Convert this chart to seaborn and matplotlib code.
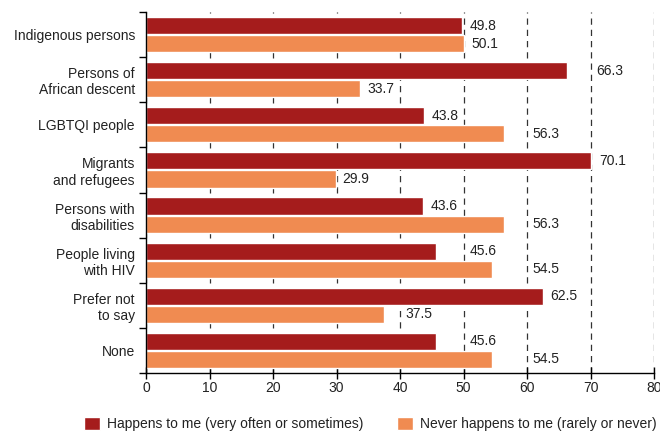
import numpy as np
import pandas as pd
import matplotlib
matplotlib.use('Agg')
import matplotlib.pyplot as plt
import seaborn as sns

# data
groups = ['Indigenous persons', 'Persons of\nAfrican descent', 'LGBTQI people',
          'Migrants\nand refugees', 'Persons with\ndisabilities', 'People living\nwith HIV',
          'Prefer not\nto say', 'None']
happens = [49.8, 66.3, 43.8, 70.1, 43.6, 45.6, 62.5, 45.6]
never = [50.1, 33.7, 56.3, 29.9, 56.3, 54.5, 37.5, 54.5]
series = ['Happens to me (very often or sometimes)', 'Never happens to me (rarely or never)']
colors = ['#a51c1c', '#f08b51']

df = pd.DataFrame({
    'group': groups * 2,
    'value': happens + never,
    'series': [series[0]] * len(groups) + [series[1]] * len(groups),
})

sns.set_theme(style='white')
plt.rcParams['font.family'] = ['Liberation Sans', 'DejaVu Sans']

fig = plt.figure(figsize=(6.6, 4.33), dpi=100)
ax = fig.add_axes([146 / 660, 1 - 373 / 433, 508 / 660, 361 / 433])

sns.barplot(data=df, x='value', y='group', hue='series', palette=colors, orient='h',
            width=0.8, gap=0.05, saturation=1, ax=ax)

ax.set_xlim(0, 80)
ax.set_ylim(7.5, -0.5)
ax.set_xticks(range(0, 81, 10))
ax.set_axisbelow(True)
ax.xaxis.grid(True, linestyle=(0, (5, 4)), color='#333333', lw=0.9)
ax.yaxis.grid(False)
for s in ['top', 'right']:
    ax.spines[s].set_visible(False)
for s in ['left', 'bottom']:
    ax.spines[s].set_color('black')
    ax.spines[s].set_linewidth(1)

ax.set_yticks(np.arange(-0.5, 8, 1), minor=True)
ax.tick_params(axis='y', which='major', left=True, length=0, pad=8, labelsize=10, labelcolor='#222222')
ax.tick_params(axis='y', which='minor', left=True, length=5, direction='out', color='black', width=1)
ax.tick_params(axis='x', which='major', bottom=True, length=8, direction='inout', width=1,
               color='black', labelsize=10, labelcolor='#222222', pad=2)
ax.set_xlabel('')
ax.set_ylabel('')

# value labels, nudged past a gridline when they would sit on it
grid_x = range(10, 90, 10)
for cont in ax.containers:
    for bar in cont:
        w = bar.get_width()
        yc = bar.get_y() + bar.get_height() / 2
        start = w + 1.2
        for g in grid_x:
            if w <= g <= start + 4.6:
                start = g + 0.9
                break
        ax.text(start, yc, f'{w:.1f}', va='center', ha='left', fontsize=10, color='#222222')

handles, labels = ax.get_legend_handles_labels()
ax.get_legend().remove()
fig.legend(handles, labels, loc='center left', bbox_to_anchor=(77 / 660, 1 - 424 / 433),
           ncol=2, frameon=False, handlelength=1.15, handleheight=1.15, handletextpad=0.5,
           columnspacing=2.45, borderpad=0, fontsize=10, labelcolor='#222222')

fig.savefig('out.png', dpi=100)
